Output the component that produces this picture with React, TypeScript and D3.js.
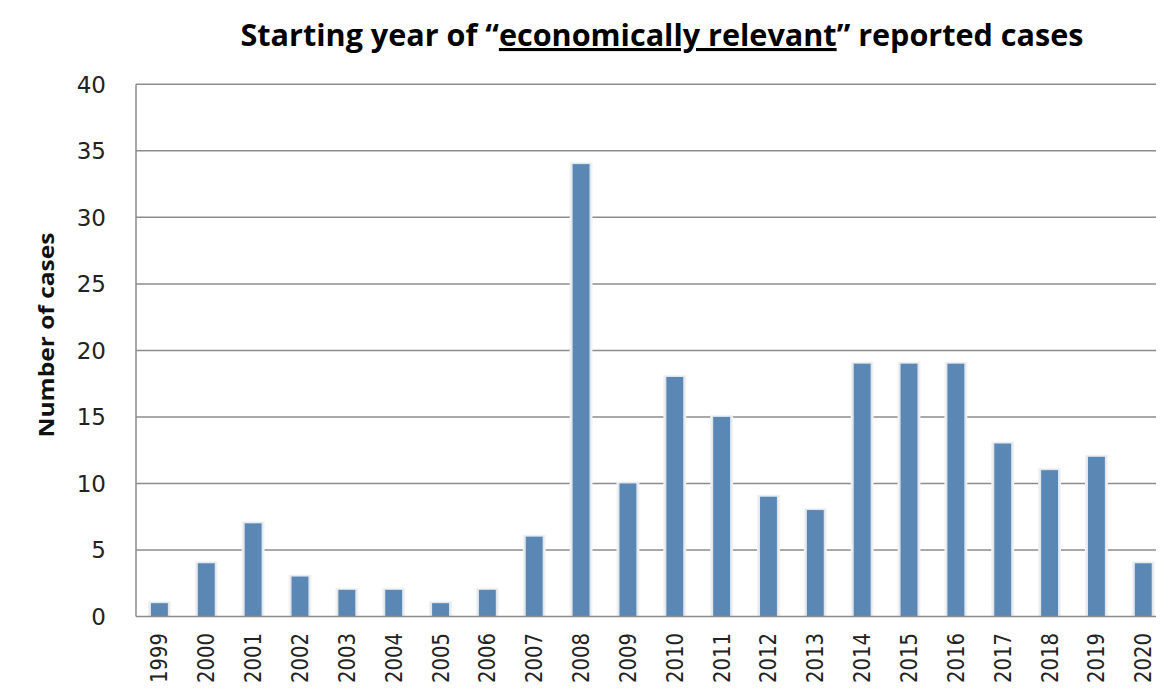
import React from "react";
import * as d3 from "d3";

const years = ["1999","2000","2001","2002","2003","2004","2005","2006","2007","2008","2009","2010","2011","2012","2013","2014","2015","2016","2017","2018","2019","2020"];
const cases = [1,4,7,3,2,2,1,2,6,34,10,18,15,9,8,19,19,19,13,11,12,4];
const yTicks = [0,5,10,15,20,25,30,35,40];
const titleBefore = "Starting year of \u201C";
const titleUnderlined = "economically relevant";
const titleAfter = "\u201D reported cases";
const yAxisTitle = "Number of cases";

const W = 1173, H = 689;
const left = 136, plotRight = 1156, bandEnd = 136 + 22 * 46.85;
const top = 84.3, bottom = 616.5;

export default function App() {
  const x = d3.scaleBand<string>().domain(years).range([left, bandEnd]).paddingInner(0.64).paddingOuter(0.32);
  const y = d3.scaleLinear().domain([0, 40]).range([bottom, top]);
  const bw = x.bandwidth();
  const axisColor = "#8c8c8c";
  const tickFont = "'DejaVu Sans', Verdana, sans-serif";
  return (
    <svg width={W} height={H} style={{ position: "absolute", left: 0, top: 0, background: "#fff" }}>
      <text x={662} y={46} fontFamily="'Open Sans', sans-serif" fontWeight={700} fontSize={31} textAnchor="middle" fill="#000" textLength={843} lengthAdjust="spacingAndGlyphs">
        <tspan>{titleBefore}</tspan>
        <tspan textDecoration="underline">{titleUnderlined}</tspan>
        <tspan>{titleAfter}</tspan>
      </text>
      {yTicks.map(t => (
        <g key={t}>
          {t > 0 && <line x1={left} x2={plotRight} y1={y(t)} y2={y(t)} stroke={axisColor} strokeWidth={1.5} />}
          <text x={106} y={y(t)} dy="0.36em" textAnchor="end" fontFamily={tickFont} fontSize={23} fill="#222">{t}</text>
        </g>
      ))}
      {years.map((yr, i) => {
        const bx = x(yr)!;
        const by = y(cases[i]);
        return (
          <g key={yr}>
            <rect x={bx - 3} y={by - 2} width={bw + 6} height={bottom - by + 2} fill="#f2f2f2" />
            <rect x={bx - 1.5} y={by - 1} width={bw + 3} height={bottom - by + 1} fill="#dfe6ee" />
            <rect x={bx} y={by} width={bw} height={bottom - by} fill="#5b87b4" />
          </g>
        );
      })}
      <line x1={left} x2={left} y1={top} y2={bottom} stroke={axisColor} strokeWidth={1.5} />
      <line x1={left} x2={plotRight} y1={bottom} y2={bottom} stroke={axisColor} strokeWidth={1.5} />
      {years.map(yr => {
        const cx = x(yr)! + bw / 2;
        return (
          <text key={yr} transform={`translate(${cx + 8},${683}) rotate(-90)`} fontFamily={tickFont} fontSize={23} fill="#222" textLength={50} lengthAdjust="spacingAndGlyphs">{yr}</text>
        );
      })}
      <text transform={`translate(54,335) rotate(-90)`} textAnchor="middle" fontFamily="'Open Sans', sans-serif" fontWeight={700} fontSize={22} fill="#111" textLength={205} lengthAdjust="spacingAndGlyphs">{yAxisTitle}</text>
    </svg>
  );
}
